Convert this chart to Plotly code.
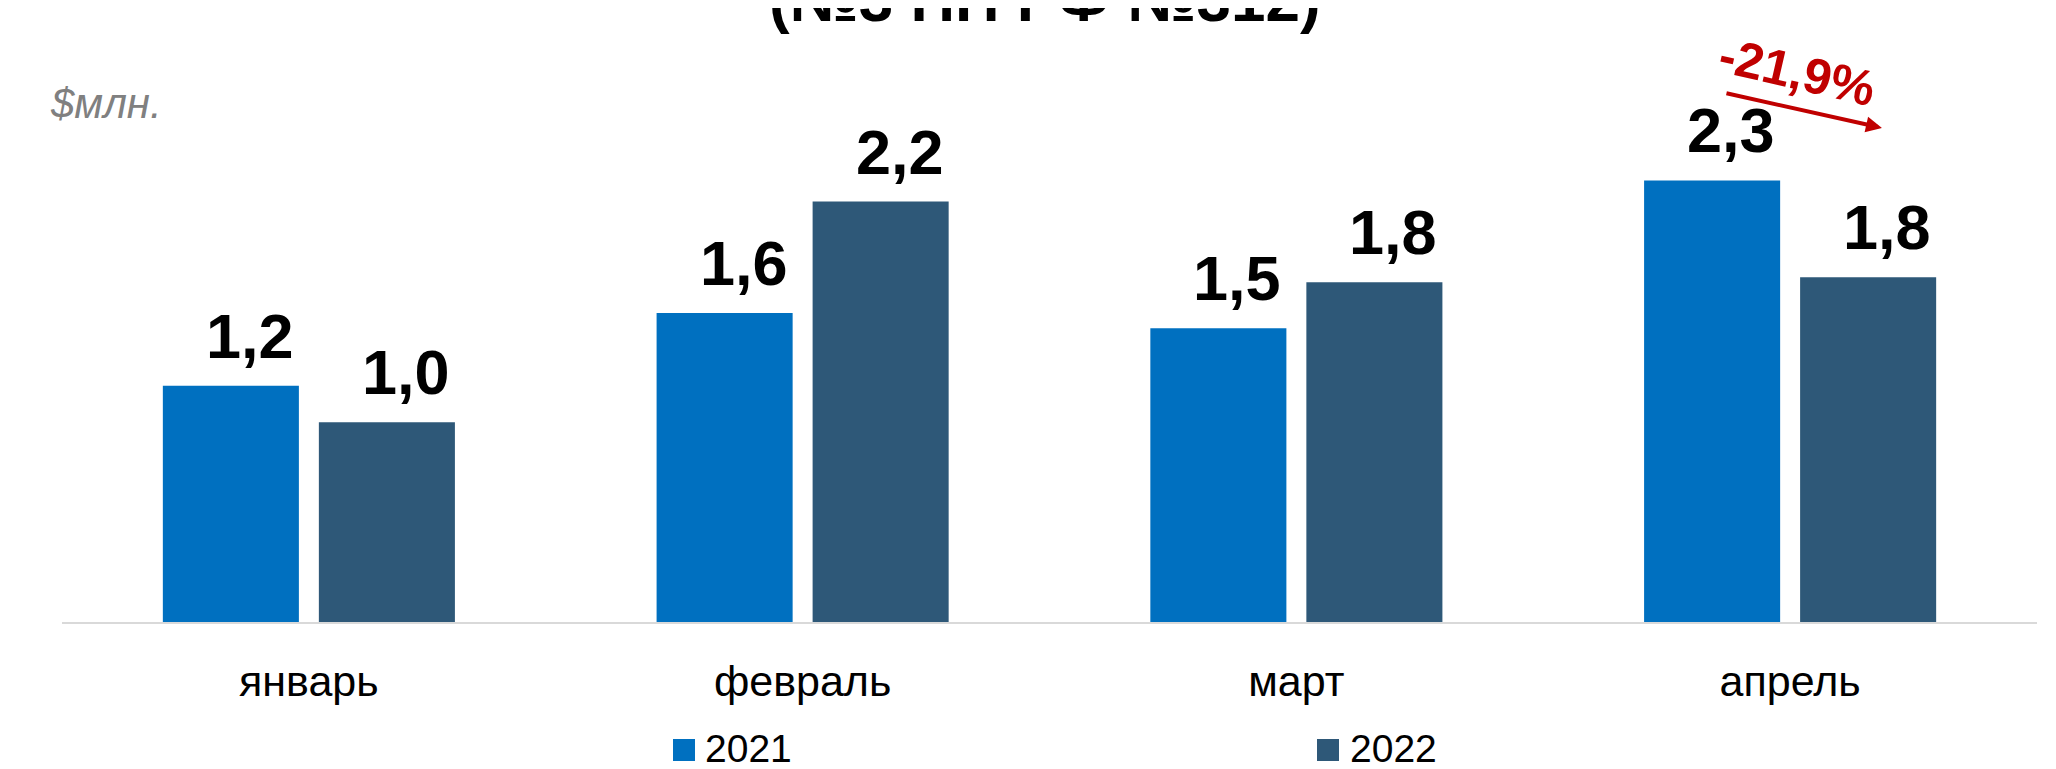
import plotly.graph_objects as go

# ---- data ----
months = ["январь", "февраль", "март", "апрель"]
series_names = ["2021", "2022"]
values_2021 = [1.23, 1.61, 1.53, 2.30]
values_2022 = [1.04, 2.19, 1.77, 1.796]
colors = ["#0070C0", "#2E5878"]
change_label = "-21,9%"
unit_label = "$млн."
title_line = "(№3 ПП РФ №312)"

# page offset (body margin) compensation
OFF = 8
W, H = 2056 - OFF, 769 - OFF
AX_LEFT, AX_RIGHT, AX_TOP, AX_BOTTOM = 62, 2037, 60, 622  # page pixels
L, R, T, B = AX_LEFT - OFF, W - (AX_RIGHT - OFF), AX_TOP - OFF, H - (AX_BOTTOM - OFF)
PW, PH = AX_RIGHT - AX_LEFT, AX_BOTTOM - AX_TOP
FONT = "Liberation Sans, Arial, sans-serif"


def px(xp):
    return (xp - AX_LEFT) / PW


def py(yp):
    return (AX_BOTTOM - yp) / PH


fig = go.Figure()
for name, vals, col in zip(series_names, [values_2021, values_2022], colors):
    fig.add_trace(go.Bar(x=months, y=vals, name=name, marker_color=col,
                         marker_line_width=0, showlegend=False))

annotations = []
# value labels
for vals, shift in zip([values_2021, values_2022], [-59, 97]):
    for m, v in zip(months, vals):
        annotations.append(dict(
            x=m, y=v, xref="x", yref="y", xshift=shift, yshift=13,
            yanchor="bottom", xanchor="center", showarrow=False,
            text=f"<b>{v:.1f}</b>".replace(".", ","),
            font=dict(family=FONT, size=63, color="black")))

# change arrow and label
annotations.append(dict(
    x=3.186, y=2.573, xref="x", yref="y", ax=-157, ay=-35, axref="pixel", ayref="pixel",
    showarrow=True, arrowhead=2, arrowsize=0.8, arrowwidth=4, arrowcolor="#C00000", text=""))
annotations.append(dict(
    x=px(1797), y=py(72), xref="paper", yref="paper", xanchor="center", yanchor="middle",
    showarrow=False, text=f"<b>{change_label}</b>", textangle=13,
    font=dict(family=FONT, size=50, color="#C00000")))

# unit label
annotations.append(dict(
    x=px(48), y=py(104), xref="paper", yref="paper", xanchor="left", yanchor="middle",
    showarrow=False, text=f"<i>{unit_label}</i>",
    font=dict(family=FONT, size=42, color="#808080")))

# title (partially cut at the top)
annotations.append(dict(
    x=px(1045), y=py(36), xref="paper", yref="paper", xanchor="center", yanchor="bottom",
    showarrow=False, text=f"<b>{title_line}</b>",
    font=dict(family=FONT, size=62, color="black")))

# manual legend
shapes = []
leg_pos = [(673, 706), (1317, 1351)]
for (sx, tx), name, col in zip(leg_pos, series_names, colors):
    shapes.append(dict(type="rect", xref="paper", yref="paper",
                       x0=px(sx), x1=px(sx + 22), y0=py(761), y1=py(739),
                       fillcolor=col, line_width=0))
    annotations.append(dict(
        x=px(tx - 3), y=py(749), xref="paper", yref="paper", xanchor="left", yanchor="middle",
        showarrow=False, text=name, font=dict(family=FONT, size=39, color="black")))

fig.update_layout(
    width=W, height=H,
    margin=dict(l=L, r=R, t=T, b=B),
    paper_bgcolor="white", plot_bgcolor="white",
    barmode="group", bargap=0.368, bargroupgap=0.128,
    showlegend=False,
    annotations=annotations, shapes=shapes,
    xaxis=dict(showline=True, linecolor="#D9D9D9", linewidth=2, showgrid=False,
               ticks="", ticklabelstandoff=20,
               tickfont=dict(family=FONT, size=43, color="black")),
    yaxis=dict(visible=False, range=[0, PH / 192], showgrid=False),
)

fig.write_html("out.html")
